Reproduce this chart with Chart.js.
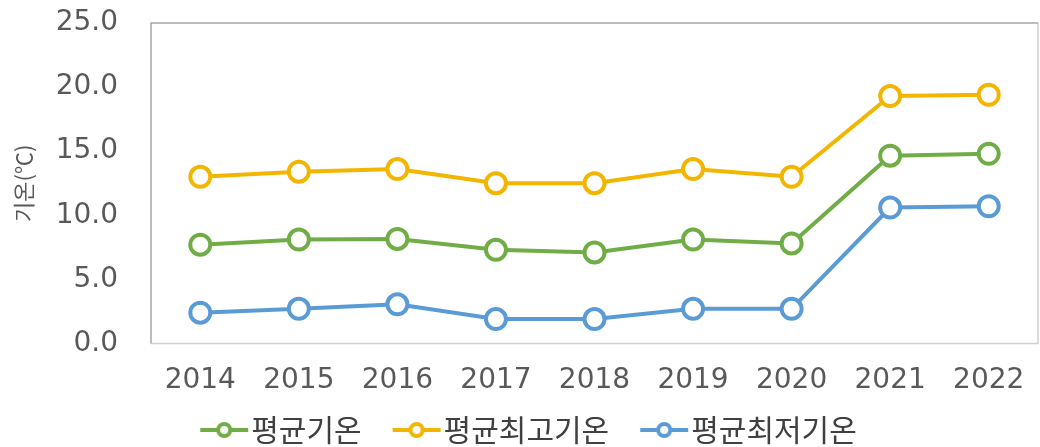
<!DOCTYPE html>
<html><head><meta charset="utf-8">
<script src="https://cdn.jsdelivr.net/npm/chart.js@4.4.1/dist/chart.umd.min.js"></script>
<style>html,body{margin:0;padding:0;background:#fff}#wrap{width:1040px;height:447px}</style>
</head><body><div id="wrap"><canvas id="c" width="1040" height="447"></canvas></div>
<script>
const categories = ['2014','2015','2016','2017','2018','2019','2020','2021','2022'];
const seriesNames = ['평균기온','평균최고기온','평균최저기온'];
const avgTemp = [7.7, 8.1, 8.15, 7.3, 7.1, 8.1, 7.8, 14.65, 14.8];
const maxTemp = [13.0, 13.4, 13.6, 12.5, 12.5, 13.6, 13.0, 19.3, 19.4];
const minTemp = [2.4, 2.7, 3.05, 1.9, 1.9, 2.7, 2.7, 10.6, 10.7];
const yTicks = [0, 5, 10, 15, 20, 25];
const yTitle = '기온(℃)';
const colors = ['#70AD47', '#F2B500', '#5B9BD5'];

// legend icon: transparent margin on the left so the visible line+circle sits right before the text
const ICON_BOX = 61;
function legendIcon(color){
  const cv = document.createElement('canvas');
  cv.width = ICON_BOX + 26; cv.height = 20;
  const g = cv.getContext('2d');
  const x0 = cv.width - 49, x1 = cv.width - 1, cx = (x0 + x1) / 2;
  g.strokeStyle = color; g.lineWidth = 4;
  g.beginPath(); g.moveTo(x0, 10); g.lineTo(x1, 10); g.stroke();
  g.fillStyle = '#fff'; g.lineWidth = 4;
  g.beginPath(); g.arc(cx, 10, 6, 0, Math.PI*2); g.fill(); g.stroke();
  return cv;
}

const KFONT = "'Noto Sans CJK KR', 'Noto Sans', sans-serif";
const NFONT = "'DejaVu Sans', sans-serif";
const data = [avgTemp, maxTemp, minTemp];
const datasets = data.map((d, i) => ({
  label: seriesNames[i],
  data: d,
  borderColor: colors[i],
  backgroundColor: '#fff',
  borderWidth: 4,
  pointRadius: 10,
  pointBorderWidth: 4,
  pointBackgroundColor: '#fff',
  pointBorderColor: colors[i],
  pointStyle: 'circle',
  tension: 0,
  order: 2 - i
}));
datasets.forEach((ds, i) => { ds.legendIcon = legendIcon(colors[i]); });

const frame = {
  id: 'frame',
  afterLayout(chart){
    if (chart.legend) { chart.legend.left -= 8; chart.legend.right -= 8; }
  },
  beforeDatasetsDraw(chart){
    const a = chart.chartArea, g = chart.ctx;
    g.save(); g.lineWidth = 1.5;
    g.strokeStyle = '#D0D0D0';
    g.beginPath(); g.moveTo(a.left, a.bottom); g.lineTo(a.right, a.bottom); g.lineTo(a.right, a.top); g.stroke();
    g.strokeStyle = '#A6A6A6';
    g.beginPath(); g.moveTo(a.left, a.bottom); g.lineTo(a.left, a.top); g.lineTo(a.right, a.top); g.stroke();
    g.restore();
  }
};

new Chart(document.getElementById('c'), {
  type: 'line',
  data: { labels: categories, datasets },
  plugins: [frame],
  options: {
    responsive: false,
    animation: false,
    layout: { autoPadding: false, padding: { top: 23, right: 2, left: 10, bottom: -8 } },
    plugins: {
      tooltip: { enabled: false },
      legend: {
        position: 'bottom',
        labels: {
          font: { family: KFONT, size: 30, lineHeight: 1 },
          color: '#404040',
          usePointStyle: true,
          pointStyleWidth: ICON_BOX,
          padding: 6,
          boxHeight: 20,
          generateLabels(chart){
            return chart.data.datasets.map((ds, i) => ({
              text: ds.label,
              pointStyle: ds.legendIcon,
              fillStyle: '#fff',
              strokeStyle: ds.borderColor,
              lineWidth: 0,
              fontColor: '#404040',
              datasetIndex: i,
              hidden: false
            }));
          }
        }
      }
    },
    scales: {
      x: {
        grid: { display: false, drawTicks: false },
        border: { display: false },
        offset: true,
        ticks: { font: { family: NFONT, size: 28 }, color: '#595959', padding: 21 },
        afterFit(s){ s.paddingLeft = 0; s.paddingRight = 0; s.height -= 10; }
      },
      y: {
        min: 0, max: 25,
        afterBuildTicks(scale){ scale.ticks = yTicks.map(v => ({ value: v })); },
        grid: { display: false, drawTicks: false },
        border: { display: false },
        ticks: {
          font: { family: NFONT, size: 28 }, color: '#595959', padding: 33,
          callback: v => Number(v).toFixed(1)
        },
        title: { display: true, text: yTitle, font: { family: KFONT, size: 22 }, color: '#595959', padding: { top: 0, bottom: 4 } },
        afterFit(s){ s.paddingTop = 0; s.paddingBottom = 0; s.width = 141; }
      }
    }
  }
});
</script></body></html>
